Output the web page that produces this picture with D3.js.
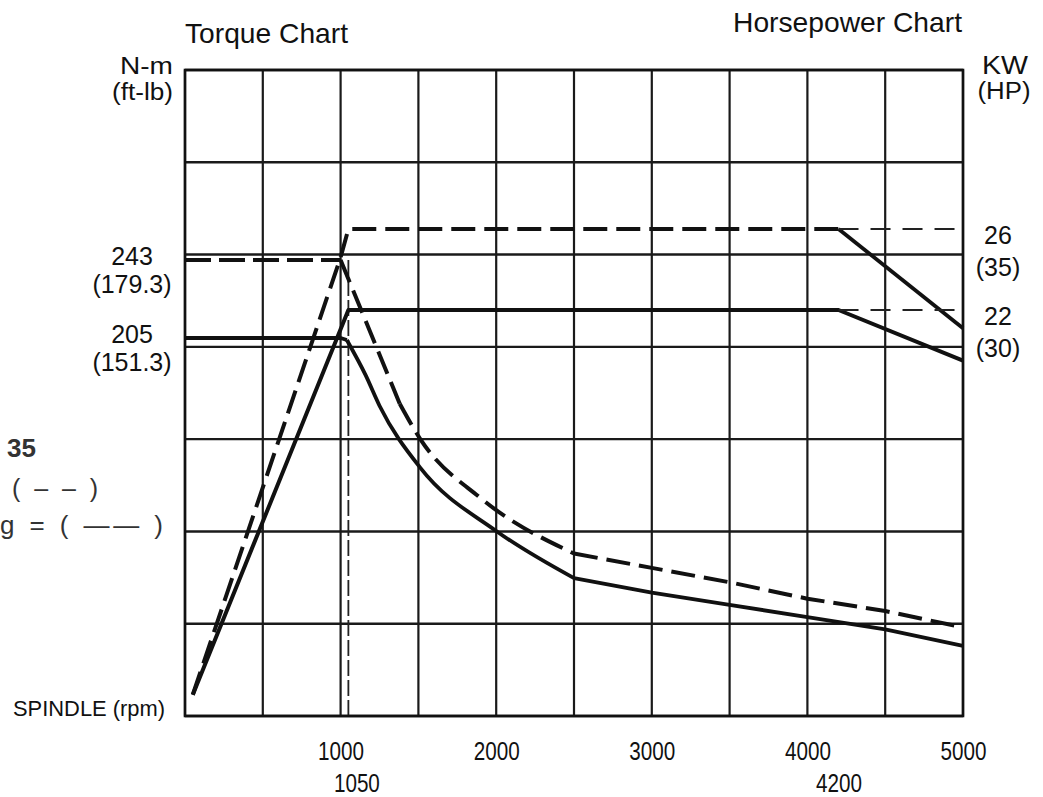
<!DOCTYPE html>
<html>
<head>
<meta charset="utf-8">
<script src="https://cdn.jsdelivr.net/npm/d3@7"></script>
<style>
  body { margin: 0; background: #fff; }
  text { font-family: "Liberation Sans", Arial, sans-serif; fill: #111; }
</style>
</head>
<body>
<div id="chart"></div>
<script>
// Globals
const rpmTicks = [1000, 2000, 3000, 4000, 5000];
const rpmMarks = [1050, 4200];
const torqueTicks = [243, 205];
const torqueFtLb = ["(179.3)", "(151.3)"];
const powerTicks = [26, 22];
const powerHp = ["(35)", "(30)"];

// torque curves (N-m)
const torqueDashRpm = [0, 1000, 1380, 1510, 1900, 2500, 3000, 3500, 4000, 4500, 5000];
const torqueDashNm = [243, 243, 173, 156, 127, 100, 93, 86, 78, 72, 64];
const torqueSolidRpm = [0, 1000, 1040, 1160, 1250, 1510, 2000, 2500, 3000, 3500, 4000, 4500, 5000];
const torqueSolidNm = [205, 205, 204, 187, 172, 142, 111, 88, 81, 75, 69, 63, 55];

// power curves (KW)
const powerDashRpm = [50, 1000, 1050, 4200, 5000];
const powerDashKw = [3, 24.6, 26, 26, 21.1];
const powerSolidRpm = [50, 1050, 4200, 5000];
const powerSolidKw = [3, 22, 22, 19.5];

const margin = {top: 70, right: 80, bottom: 81, left: 185},
  width = 1043 - margin.left - margin.right,
  height = 797 - margin.top - margin.bottom;

var svg = d3.select("#chart")
  .append("svg")
    .attr("width", 1043)
    .attr("height", 797);

var g = svg.append("g")
    .attr("transform", "translate(" + margin.left + "," + margin.top + ")");

var x = d3.scaleLinear().domain([0, 5000]).range([0, width]);
// schematic axes, anchored on the labelled values
var yT = d3.scaleLinear().domain([205, 243]).range([268, 190]);
var yP = d3.scaleLinear().domain([22, 26]).range([240, 159]);
var rows = d3.scaleLinear().domain([0, 7]).range([0, height]);

// Grid
g.append("g")
  .selectAll("line")
  .data(d3.range(0, 5001, 500))
  .enter()
  .append("line")
    .attr("x1", d => x(d)).attr("x2", d => x(d))
    .attr("y1", 0).attr("y2", height)
    .attr("stroke", "#1a1a1a")
    .attr("stroke-width", 2.2);
g.append("g")
  .selectAll("line")
  .data(d3.range(8))
  .enter()
  .append("line")
    .attr("x1", 0).attr("x2", width)
    .attr("y1", d => rows(d)).attr("y2", d => rows(d))
    .attr("stroke", "#1a1a1a")
    .attr("stroke-width", 2.4);

// 1050 rpm marker
g.append("line")
  .attr("x1", x(1050)).attr("x2", x(1050))
  .attr("y1", yT(243)).attr("y2", height)
  .attr("stroke", "#222")
  .attr("stroke-width", 1.8)
  .attr("stroke-dasharray", "16,4");

var torqueLine = d3.line().x(d => x(d[0])).y(d => yT(d[1]));
var torqueCurve = d3.line().x(d => x(d[0])).y(d => yT(d[1])).curve(d3.curveMonotoneX);
var powerLine = d3.line().x(d => x(d[0])).y(d => yP(d[1]));

var torqueDash = d3.zip(torqueDashRpm, torqueDashNm);
var torqueSolid = d3.zip(torqueSolidRpm, torqueSolidNm);
var powerDash = d3.zip(powerDashRpm, powerDashKw);
var powerSolid = d3.zip(powerSolidRpm, powerSolidKw);

function addPath(d, gen, dash, w) {
  g.append("path")
    .datum(d)
    .attr("d", gen)
    .attr("fill", "none")
    .attr("stroke", "#111")
    .attr("stroke-width", w)
    .attr("stroke-linejoin", "round")
    .attr("stroke-dasharray", dash);
}

// Torque: flat, drop, curve to 2500, then straight
addPath(torqueDash.slice(0, 2), torqueLine, "26,8", 3.8);
addPath(torqueDash.slice(1, 3), torqueLine, "24,9", 4);
addPath(torqueDash.slice(2, 6), torqueCurve, "24,9", 4);
addPath(torqueDash.slice(5), torqueLine, "24,9", 4);
addPath(torqueSolid.slice(0, 3), torqueLine, null, 3.8);
addPath(torqueSolid.slice(2, 8), torqueCurve, null, 3.8);
addPath(torqueSolid.slice(7), torqueLine, null, 3.8);

// Power
addPath(powerDash.slice(0, 4), powerLine, "24,9", 4);
addPath(powerDash.slice(3), powerLine, null, 3.8);
addPath(powerSolid, powerLine, null, 4);

// constant power extensions past 4200
g.append("g")
  .selectAll("line")
  .data(powerTicks)
  .enter()
  .append("line")
    .attr("x1", x(4200)).attr("x2", x(5000))
    .attr("y1", d => yP(d)).attr("y2", d => yP(d))
    .attr("stroke", "#222")
    .attr("stroke-width", 2)
    .attr("stroke-dasharray", "20,12");

// Frame
g.append("rect")
  .attr("width", width).attr("height", height)
  .attr("fill", "none")
  .attr("stroke", "#111")
  .attr("stroke-width", 2.6);

// Add X axis (two rows of labels)
var xAxis = g.append("g")
  .attr("transform", "translate(0," + height + ")")
  .call(d3.axisBottom(x).tickValues(rpmTicks).tickFormat(d3.format("d")).tickSize(0).tickPadding(26));
var xAxis2 = g.append("g")
  .attr("transform", "translate(0," + height + ")")
  .call(d3.axisBottom(x).tickValues(rpmMarks).tickFormat(d3.format("d")).tickSize(0).tickPadding(58));
[xAxis, xAxis2].forEach(a => {
  a.select(".domain").remove();
  a.selectAll("text")
    .attr("font-size", 25)
    .attr("fill", "#111")
    .attr("textLength", 46)
    .attr("lengthAdjust", "spacingAndGlyphs");
});
xAxis2.selectAll("text").filter(d => d == 1050).attr("dx", 8);

// Torque labels (left)
var tl = g.append("g").selectAll("g")
  .data(torqueTicks)
  .enter()
  .append("g");
tl.append("text")
  .attr("x", -53).attr("y", d => yT(d) + 5)
  .attr("text-anchor", "middle")
  .attr("font-size", 25)
  .text(d => d);
tl.append("text")
  .attr("x", -53).attr("y", (d, i) => yT(d) + 33)
  .attr("text-anchor", "middle")
  .attr("font-size", 25)
  .text((d, i) => torqueFtLb[i]);

// Power labels (right)
var pl = g.append("g").selectAll("g")
  .data(powerTicks)
  .enter()
  .append("g");
pl.append("text")
  .attr("x", width + 35).attr("y", d => yP(d) + 15)
  .attr("text-anchor", "middle")
  .attr("font-size", 25)
  .text(d => d);
pl.append("text")
  .attr("x", width + 35).attr("y", d => yP(d) + 47)
  .attr("text-anchor", "middle")
  .attr("font-size", 25)
  .text((d, i) => powerHp[i]);

// Titles and units
function label(tx, ty, str, size, len, anchor) {
  var t = svg.append("text")
    .attr("x", tx).attr("y", ty)
    .attr("font-size", size)
    .attr("text-anchor", anchor || "start")
    .text(str);
  if (len) t.attr("textLength", len).attr("lengthAdjust", "spacingAndGlyphs");
  return t;
}
label(185, 43, "Torque Chart", 28, 163);
label(733, 32, "Horsepower Chart", 28, 229);
label(173, 74, "N-m", 23, 53, "end");
label(173, 100, "(ft-lb)", 23, 61, "end");
label(1005, 74, "KW", 25, 46, "middle");
label(1004, 99, "(HP)", 23, 53, "middle");
label(13, 716, "SPINDLE (rpm)", 22, 152);

// Legend (cut off at left edge)
label(7, 457, "35", 26).attr("font-weight", "bold").style("fill", "#333")
  .style("font-family", "Arial, 'Liberation Sans', sans-serif");
label(12, 497, "( – – )", 25).style("fill", "#333")
  .attr("textLength", 86).attr("lengthAdjust", "spacing");
label(0, 534, "g = ( —— )", 26).style("fill", "#333")
  .attr("textLength", 163).attr("lengthAdjust", "spacing");
</script>
</body>
</html>
